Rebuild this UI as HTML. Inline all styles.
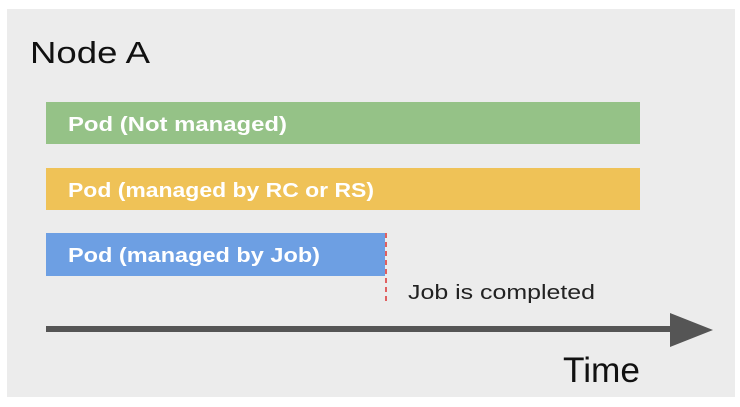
<!DOCTYPE html>
<html><head><style>
body{margin:0;width:740px;height:402px;background:#fff;overflow:hidden;font-family:"Liberation Sans",sans-serif}
</style></head><body>
<svg width="740" height="402">
<rect x="7" y="9" width="728" height="388" fill="#ececec"/>
<text x="30" y="63" font-size="31" fill="#111" textLength="120" lengthAdjust="spacingAndGlyphs">Node A</text>
<g>
<rect x="46" y="102" width="594" height="42" fill="#95c287"/>
<text x="68" y="131" font-size="20" font-weight="bold" fill="#fff" textLength="219" lengthAdjust="spacingAndGlyphs">Pod (Not managed)</text></g>
<g>
<rect x="46" y="168" width="594" height="42" fill="#efc257"/>
<text x="68" y="197" font-size="20" font-weight="bold" fill="#fff" textLength="306" lengthAdjust="spacingAndGlyphs">Pod (managed by RC or RS)</text></g>
<g>
<rect x="46" y="233" width="339" height="43" fill="#6d9fe3"/>
<text x="68" y="262" font-size="20" font-weight="bold" fill="#fff" textLength="252" lengthAdjust="spacingAndGlyphs">Pod (managed by Job)</text></g>
<line x1="386" y1="233" x2="386" y2="305" stroke="#e06060" stroke-width="2" stroke-dasharray="5,4"/>
<text x="408" y="299" font-size="20" fill="#222" textLength="187" lengthAdjust="spacingAndGlyphs">Job is completed</text>
<g>
<line x1="46" y1="329" x2="675" y2="329" stroke="#555" stroke-width="6"/>
<polygon points="670,313 713,330 670,347" fill="#555"/></g>
<text x="563" y="382" font-size="35" fill="#111" textLength="77" lengthAdjust="spacingAndGlyphs">Time</text>
</svg>
</body></html>
